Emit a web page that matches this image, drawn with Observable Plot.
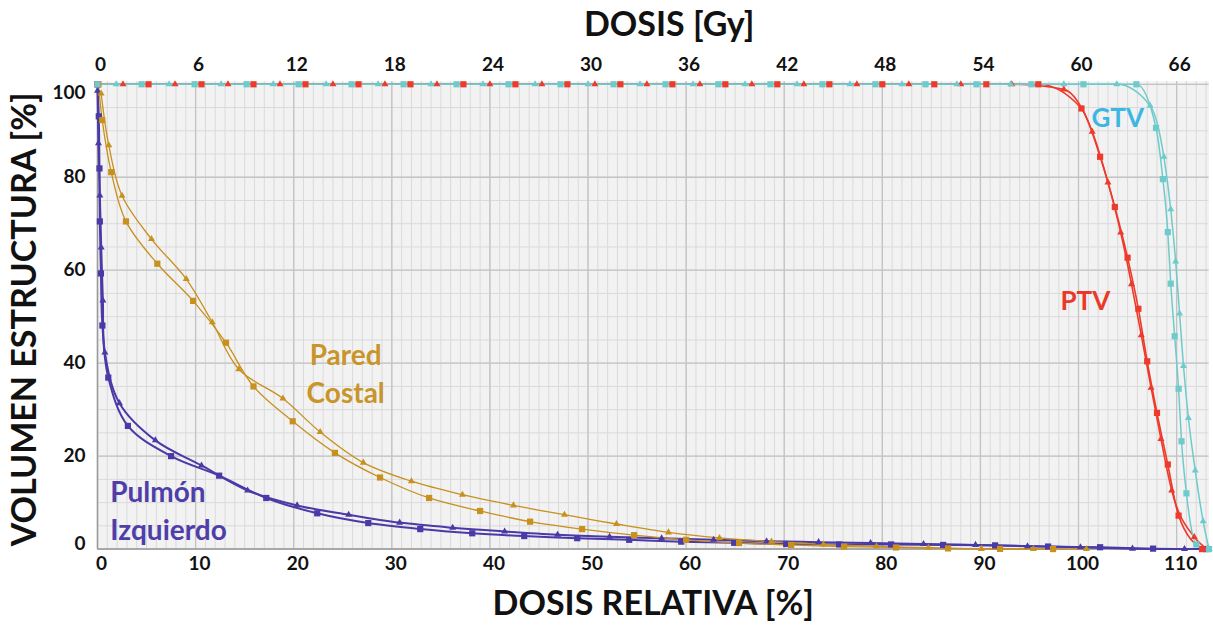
<!DOCTYPE html>
<html><head><meta charset="utf-8">
<script src="https://cdn.jsdelivr.net/npm/d3@7"></script>
<script src="https://cdn.jsdelivr.net/npm/@observablehq/plot@0.6"></script>
<style>
html,body{margin:0;padding:0;background:#fff;}
#chart svg{display:block;}
</style></head><body><div id="chart"></div>
<script>
// ---- tick labels ----
const xTicks = [0,10,20,30,40,50,60,70,80,90,100,110];
const gyTickLabels = ["0","6","12","18","24","30","36","42","48","54","60","66"];
const yTicks = [0,20,40,60,80,100];

// ---- series values: [dosis relativa %, volumen %] ----
const pulmonSquares = [[0,100],[0.13,93.1],[0.2,81.9],[0.24,70.5],[0.35,59.3],[0.5,48.1],[1.1,36.9],[3.1,26.5],[7.5,20],[12.4,15.8],[17.2,11],[22.4,7.7],[27.6,5.6],[32.9,4.3],[38.2,3.4],[43.5,2.8],[48.9,2.35],[54.2,2.0],[59.5,1.6],[64.9,1.35],[70.2,1.1],[75.6,1.0],[80.9,1.0],[86.2,0.9],[91.5,0.8],[96.9,0.55],[102.2,0.4],[107.6,0.1],[113,0]];
const pulmonTriangles = [[0,98.6],[0.1,87.3],[0.24,76.1],[0.38,64.9],[0.55,53.5],[0.75,42.3],[2.24,31.4],[5.9,23.4],[10.6,18],[15.3,12.6],[20.35,9.4],[25.6,7.4],[30.8,5.7],[36.2,4.6],[41.5,3.8],[46.9,3.1],[52.2,2.65],[57.5,2.35],[62.8,2.0],[68.2,1.7],[73.5,1.5],[78.8,1.3],[84.2,1.1],[89.5,0.9],[94.8,0.6],[100.2,0.4],[105.5,0.1],[110.8,0]];
const paredSquares = [[0.1,100],[0.48,92.3],[1.4,81.1],[2.9,70.5],[6.1,61.4],[9.75,53.4],[13.1,44.4],[15.9,35],[19.9,27.5],[24.2,20.7],[28.8,15.4],[33.8,11.0],[39,8.2],[44.1,5.9],[49.4,4.3],[54.7,3.0],[60,2.0],[65.4,1.3],[70.7,0.9],[76.1,0.55],[81.4,0.35],[86.7,0.15],[92,0.05],[97.4,0]];
const paredTriangles = [[0.37,98],[1.15,86.9],[2.5,76],[5.5,66.7],[9.05,58.1],[11.7,48.8],[14.4,38.7],[18.9,32.4],[22.7,25.2],[27.1,18.6],[32,14.6],[37.2,11.7],[42.4,9.4],[47.6,7.4],[52.9,5.4],[58.2,3.6],[63.4,2.4],[68.7,1.6],[74,1.0],[79.4,0.6],[84.7,0.3],[90.1,0.05],[95.4,0],[100.8,0]];
const ptvSquares = [[0,100],[5.2,100],[10.6,100],[15.9,100],[21.2,100],[26.6,100],[31.9,100],[37.3,100],[42.6,100],[47.9,100],[53.3,100],[58.6,100],[64.0,100],[69.3,100],[74.6,100],[80.0,100],[85.3,100],[90.6,100],[95.9,100],[100.3,94.8],[102.2,84.4],[103.7,73.6],[105,62.7],[106.1,51.7],[107,40.4],[108,29.3],[109.1,18.2],[110.2,7.2],[112.6,0]];
const ptvTriangles = [[2.6,100],[7.9,100],[13.3,100],[18.6,100],[24.0,100],[29.3,100],[34.6,100],[40.0,100],[45.3,100],[50.7,100],[56.0,100],[61.4,100],[66.7,100],[72.0,100],[77.4,100],[82.7,100],[88.0,100],[93.2,100],[98.5,98.9],[101.4,89.8],[103,78.9],[104.3,68.1],[105.4,57],[106.4,46],[107.4,34.7],[108.4,23.7],[109.5,12.6],[111.8,2.6],[113.1,0]];
const gtvSquares = [[0,100],[4.5,100],[9.9,100],[15.2,100],[20.5,100],[25.9,100],[31.2,100],[36.6,100],[41.9,100],[47.2,100],[52.6,100],[57.9,100],[63.3,100],[68.6,100],[73.9,100],[79.3,100],[84.4,100],[89.6,100],[95.2,100],[100.5,100],[105.9,100],[107.9,90.6],[108.6,79.6],[109.1,68.2],[109.4,57.1],[109.8,45.8],[110.2,34.5],[110.5,23.2],[111,12.0],[112,1.0],[113.3,0]];
const gtvTriangles = [[1.9,100],[7.3,100],[12.6,100],[17.9,100],[23.3,100],[28.6,100],[34.0,100],[39.3,100],[44.6,100],[50.0,100],[55.3,100],[60.7,100],[66.0,100],[71.3,100],[76.7,100],[82.0,100],[87.6,100],[93.1,100],[98.5,100],[103.9,100],[107.3,95.4],[108.7,84.4],[109.4,73.1],[109.9,61.9],[110.3,50.7],[110.7,39.4],[111.2,28.2],[111.9,16.9],[112.7,6.0],[113.3,0]];

// ---- labels ----
const seriesLabels = [
  {text:"Pulmón\nIzquierdo", key:"pulmon"},
  {text:"Pared\nCostal", key:"pared"},
  {text:"PTV", key:"ptv"},
  {text:"GTV", key:"gtv"}
];
const titleTop = "DOSIS [Gy]";
const titleBottom = "DOSIS RELATIVA [%]";
const titleLeft = "VOLUMEN ESTRUCTURA [%]";

// ---- styles (kept apart from data) ----
const colors = {pulmon:"#4a3aa8", pared:"#c8901c", ptv:"#ee3a2b", gtv:"#6fcbcb"};
const labelColors = {pulmon:"#4e3ea9", pared:"#c9952b", ptv:"#e8392a", gtv:"#3cb7e4"};
const labelPos = {pulmon:[1.3,8.6,"start",28], pared:[25.3,38.2,"middle",28], ptv:[100.7,53.9,"middle",26], gtv:[104,93.3,"middle",26]};

const curves = [
  {key:"pulmon", sym:"square", pts:pulmonSquares, w:2, curve:"catmull-rom"},
  {key:"pulmon", sym:"triangle", pts:pulmonTriangles, w:2, curve:"catmull-rom"},
  {key:"pared", sym:"square", pts:paredSquares, w:1.3, curve:"catmull-rom"},
  {key:"pared", sym:"triangle", pts:paredTriangles, w:1.3, curve:"catmull-rom"},
  {key:"ptv", sym:"square", pts:ptvSquares, w:1.6, curve:"monotone-x"},
  {key:"ptv", sym:"triangle", pts:ptvTriangles, w:1.6, curve:"monotone-x"},
  {key:"gtv", sym:"square", pts:gtvSquares, w:1.5, curve:"monotone-x"},
  {key:"gtv", sym:"triangle", pts:gtvTriangles, w:1.5, curve:"monotone-x"}
];

const minorX = d3.range(0, 114, 1);
const minorY = d3.range(0, 101, 5);

const marks = [
  Plot.frame({fill:"#f2f2f2", stroke:null}),
  Plot.gridX(minorX, {stroke:"#dadada", strokeOpacity:1, strokeWidth:1}),
  Plot.gridY(minorY, {stroke:"#dadada", strokeOpacity:1, strokeWidth:1}),
  Plot.gridX(xTicks, {stroke:"#c3c3c3", strokeOpacity:1, strokeWidth:1.3}),
  Plot.gridY(yTicks, {stroke:"#c3c3c3", strokeOpacity:1, strokeWidth:1.3}),
  Plot.ruleX([0], {stroke:"#9a9a9a", strokeWidth:1.5}),
  Plot.ruleY([0], {stroke:"#9a9a9a", strokeWidth:1.5})
];
for (const c of curves) {
  marks.push(Plot.line(c.pts, {x:d=>d[0], y:d=>d[1], stroke:colors[c.key], strokeWidth:c.w, curve:c.curve}));
}
for (const c of curves) {
  marks.push(Plot.dot(c.pts, {x:d=>d[0], y:d=>d[1], symbol:c.sym, r:c.sym==="square"?3.5:2.6, fill:colors[c.key], stroke:null}));
}
for (const l of seriesLabels) {
  const p = labelPos[l.key];
  marks.push(Plot.text([l], {x:()=>p[0], y:()=>p[1], text:"text", textAnchor:p[2], lineAnchor:"middle", lineHeight:1.35, fontSize:p[3], fontWeight:"bold", fill:labelColors[l.key]}));
}
const midY = yTicks.slice(1, -1);
marks.push(
  Plot.axisX(xTicks, {anchor:"bottom", tickSize:0, tickPadding:7, dx:4, fontSize:19, label:null}),
  Plot.axisX(xTicks, {anchor:"top", tickSize:0, tickPadding:11, dx:3, fontSize:19, label:null, tickFormat:(d,i)=>gyTickLabels[i]}),
  Plot.axisY(midY, {anchor:"left", tickSize:0, tickPadding:12, fontSize:19, label:null}),
  Plot.axisY([yTicks[yTicks.length-1]], {anchor:"left", tickSize:0, tickPadding:12, dy:9, fontSize:19, label:null}),
  Plot.axisY([yTicks[0]], {anchor:"left", tickSize:0, tickPadding:12, dy:-5, fontSize:19, label:null}),
  Plot.text([titleTop], {frameAnchor:"top", dy:-56, dx:16, fontSize:34, fontWeight:"bold", lineAnchor:"middle", fill:"#111"}),
  Plot.text([titleBottom], {frameAnchor:"bottom", dy:55, fontSize:34, fontWeight:"bold", lineAnchor:"middle", fill:"#111"}),
  Plot.text([titleLeft], {frameAnchor:"left", dx:-72, dy:4, rotate:-90, textAnchor:"middle", fontSize:34, fontWeight:"bold", lineAnchor:"middle", fill:"#111"})
);

const chart = Plot.plot({
  width:1213, height:635,
  marginLeft:97, marginRight:4.5, marginTop:81, marginBottom:86.4,
  x:{domain:[0,113.3]},
  y:{domain:[0,100.6]},
  style:{fontFamily:"Lato, 'Open Sans', sans-serif", fontWeight:"bold", color:"#111", background:"#fff"},
  marks
});
document.getElementById("chart").appendChild(chart);
</script></body></html>
